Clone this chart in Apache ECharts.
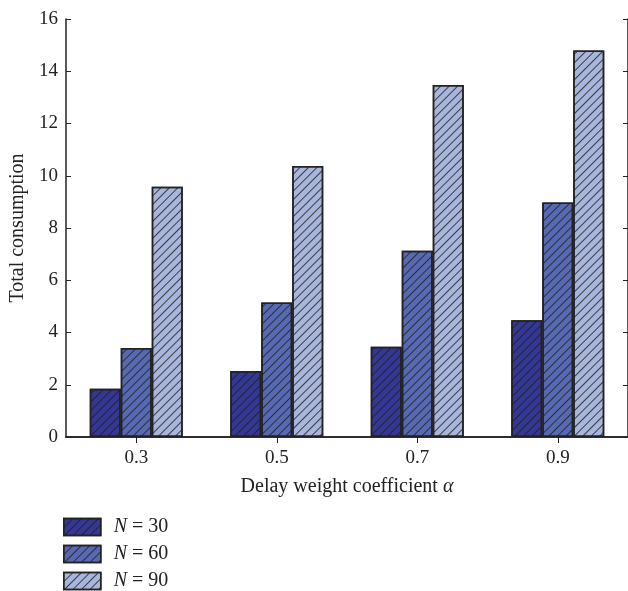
<!DOCTYPE html>
<html>
<head>
<meta charset="utf-8">
<script src="https://cdn.jsdelivr.net/npm/echarts@6/dist/echarts.min.js"></script>
<style>html,body{margin:0;padding:0;background:#fff;}#c{width:628px;height:591px;}</style>
</head>
<body>
<div id="c"></div>
<script>
const categories = ['0.3', '0.5', '0.7', '0.9'];
const seriesNames = ['30', '60', '90'];
const n30 = [1.85, 2.53, 3.45, 4.47];
const n60 = [3.41, 5.15, 7.13, 8.98];
const n90 = [9.58, 10.37, 13.47, 14.79];
const yTicks = [0, 2, 4, 6, 8, 10, 12, 14, 16];

const colors = ['#343894', '#5869b3', '#a8b6dc'];
const FONT = '"Liberation Serif", "DejaVu Serif", serif';
const decal = {
  symbol: 'rect',
  symbolSize: 1,
  color: 'rgba(30,30,30,0.8)',
  dashArrayX: [1, 0],
  dashArrayY: [1, 4.2],
  rotation: -Math.PI / 4
};

const chart = echarts.init(document.getElementById('c'), null, {renderer: 'canvas'});
const vals = [n30, n60, n90];
const series = seriesNames.map((n, i) => ({
  name: n,
  type: 'bar',
  data: vals[i],
  barWidth: 31,
  barGap: '0%',
  itemStyle: {color: colors[i], borderColor: '#222', borderWidth: 1.5, decal: decal},
  emphasis: {disabled: true}
}));

const axisLine = {show: true, lineStyle: {color: '#222', width: 1.5}};
chart.setOption({
  animation: false,
  aria: {enabled: false, decal: {show: true}},
  grid: {left: 64, top: 19, width: 566, height: 418},
  legend: {
    orient: 'vertical',
    left: 63,
    top: 517,
    height: 80,
    padding: 0,
    itemWidth: 37,
    itemHeight: 17,
    itemGap: 7,
    icon: 'rect',
    data: seriesNames,
    itemStyle: {borderColor: '#222', borderWidth: 1.5},
    formatter: (n) => '{i|N} = ' + n,
    textStyle: {
      fontFamily: FONT, fontSize: 20, lineHeight: 20, color: '#222', padding: [0, 0, 0, 8],
      rich: {i: {fontFamily: FONT, fontStyle: 'italic', fontSize: 20, lineHeight: 20, color: '#222'}}
    }
  },
  xAxis: [{
    type: 'category',
    data: categories,
    position: 'bottom',
    axisLine: axisLine,
    axisTick: {show: true, inside: true, alignWithLabel: true, length: 5, lineStyle: {color: '#222'}},
    axisLabel: {fontFamily: FONT, fontSize: 19, color: '#222', margin: 12},
    name: '{a|Delay weight coefficient }{b|α}',
    nameLocation: 'middle',
    nameGap: 40,
    nameTextStyle: {
      rich: {
        a: {fontFamily: FONT, fontSize: 20, color: '#222'},
        b: {fontFamily: FONT, fontSize: 20, fontStyle: 'italic', color: '#222'}
      }
    }
  }, {
    type: 'category',
    data: categories,
    position: 'top',
    axisLine: axisLine,
    axisTick: {show: true, inside: true, alignWithLabel: true, length: 6, lineStyle: {color: '#222'}},
    axisLabel: {show: false}
  }],
  yAxis: [{
    type: 'value',
    min: 0, max: 16, interval: 2,
    position: 'left',
    axisLine: axisLine,
    axisTick: {show: true, inside: true, length: 5, lineStyle: {color: '#222'}},
    axisLabel: {fontFamily: FONT, fontSize: 19, color: '#222', margin: 8,
      formatter: (v) => yTicks.includes(v) ? String(v) : ''},
    splitLine: {show: false},
    name: 'Total consumption',
    nameLocation: 'middle',
    nameGap: 38,
    nameTextStyle: {fontFamily: FONT, fontSize: 20, color: '#222'}
  }, {
    type: 'value',
    min: 0, max: 16, interval: 2,
    position: 'right',
    axisLine: axisLine,
    axisTick: {show: true, inside: true, length: 5, lineStyle: {color: '#222'}},
    axisLabel: {show: false},
    splitLine: {show: false}
  }],
  series: series
});
</script>
</body>
</html>
